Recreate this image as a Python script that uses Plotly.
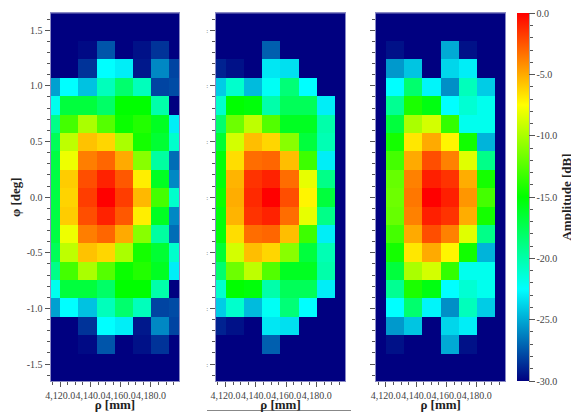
import plotly.graph_objects as go

W, H = 571, 412

rho = [4114, 4126, 4138, 4150, 4162, 4174, 4186, 4198]
phi = [1.65, 1.485, 1.32, 1.155, 0.99, 0.825, 0.66, 0.495, 0.33, 0.165, 0.0,
       -0.165, -0.33, -0.495, -0.66, -0.825, -0.99, -1.155, -1.32, -1.485, -1.65]

left_panel = [
    [-30, -30, -30, -30, -30, -30, -30, -30],
    [-30, -30, -30, -30, -30, -30, -30, -30],
    [-30, -30, -29.7, -27.5, -30, -29.5, -28.5, -30],
    [-30, -30, -28.5, -22.5, -23, -29.3, -26, -28],
    [-25.3, -22.5, -24.3, -20.5, -18.2, -20.5, -28, -27.8],
    [-22, -16.8, -16.8, -18, -15, -15, -20, -30],
    [-19, -13, -10, -12.5, -14.7, -14, -16, -23],
    [-17.6, -9.4, -5.7, -6.3, -10, -14.4, -16.5, -21],
    [-17, -8, -3.7, -3, -5, -11, -19.7, -26.8],
    [-17, -6, -2.3, -1, -2.6, -7, -16, -26],
    [-17, -6.2, -1.8, 0, -1.8, -5.4, -13, -21],
    [-17, -6, -2.3, -1, -2.6, -7, -16, -26],
    [-17, -8, -3.7, -3, -5, -11, -19.7, -26.8],
    [-17.6, -9.4, -5.7, -6.3, -10, -14.4, -16.5, -21],
    [-19, -13, -10, -12.5, -14.7, -14, -16, -23],
    [-22, -16.8, -16.8, -18, -15, -15, -20, -30],
    [-25.3, -22.5, -24.3, -20.5, -18.2, -20.5, -28, -27.8],
    [-30, -30, -28.5, -22.5, -23, -29.3, -26, -28],
    [-30, -30, -29.7, -27.5, -30, -29.5, -28.5, -30],
    [-30, -30, -30, -30, -30, -30, -30, -30],
    [-30, -30, -30, -30, -30, -30, -30, -30],
]
middle_panel = [
    [-30, -30, -30, -30, -30, -30, -30, -30],
    [-30, -30, -30, -30, -30, -30, -30, -30],
    [-30, -30, -30, -27.2, -30, -30, -30, -30],
    [-29, -29.5, -30, -23.2, -23.4, -30, -30, -30],
    [-24, -21, -24.5, -22.2, -18.5, -22.5, -30, -30],
    [-21, -15, -15.3, -20, -17.6, -17.6, -23, -30],
    [-18.2, -11.8, -9.4, -12.6, -16, -16, -20, -30],
    [-16.5, -8.8, -5.6, -6.3, -11, -16.8, -20.3, -30],
    [-15.3, -6.5, -3.2, -3, -5.6, -13.2, -23, -30],
    [-15.3, -5.3, -1.5, -1, -3.2, -8.2, -19, -30],
    [-14.7, -5.1, -1.2, 0, -2.3, -7.2, -16.8, -30],
    [-15.3, -5.3, -1.5, -1, -3.2, -8.2, -19, -30],
    [-15.3, -6.5, -3.2, -3, -5.6, -13.2, -23, -30],
    [-16.5, -8.8, -5.6, -6.3, -11, -16.8, -20.3, -30],
    [-18.2, -11.8, -9.4, -12.6, -16, -16, -20, -30],
    [-21, -15, -15.3, -20, -17.6, -17.6, -23, -30],
    [-24, -21, -24.5, -22.2, -18.5, -22.5, -30, -30],
    [-29, -29.5, -30, -23.2, -23.4, -30, -30, -30],
    [-30, -30, -30, -27.2, -30, -30, -30, -30],
    [-30, -30, -30, -30, -30, -30, -30, -30],
    [-30, -30, -30, -30, -30, -30, -30, -30],
]
right_panel = [
    [-30, -30, -30, -30, -30, -30, -30, -30],
    [-30, -30, -30, -30, -30, -30, -30, -30],
    [-30, -29.5, -30, -30, -25, -29.5, -30, -30],
    [-30, -25.5, -24.2, -30, -23.7, -23, -30, -30],
    [-30, -22.5, -18.2, -22.8, -25.8, -20.5, -24, -30],
    [-30, -19.3, -14.2, -15.5, -22.5, -21.2, -22, -30],
    [-30, -16.8, -10, -8.8, -13.5, -22, -22, -30],
    [-30, -14.4, -6.8, -5, -7.2, -14.5, -24.7, -30],
    [-30, -13, -5, -2.3, -3.8, -8.4, -19, -30],
    [-30, -12, -3.8, -0.9, -1.5, -5.1, -14.4, -30],
    [-30, -11.8, -3.5, 0, -0.9, -4.4, -13, -30],
    [-30, -12, -3.8, -0.9, -1.5, -5.1, -14.4, -30],
    [-30, -13, -5, -2.3, -3.8, -8.4, -19, -30],
    [-30, -14.4, -6.8, -5, -7.2, -14.5, -24.7, -30],
    [-30, -16.8, -10, -8.8, -13.5, -22, -22, -30],
    [-30, -19.3, -14.2, -15.5, -22.5, -21.2, -22, -30],
    [-30, -22.5, -18.2, -22.8, -25.8, -20.5, -24, -30],
    [-30, -25.5, -24.2, -30, -23.7, -23, -30, -30],
    [-30, -29.5, -30, -30, -25, -29.5, -30, -30],
    [-30, -30, -30, -30, -30, -30, -30, -30],
    [-30, -30, -30, -30, -30, -30, -30, -30],
]

x_ticks = [4120, 4140, 4160, 4180]
x_labels = ["4,120.0", "4,140.0", "4,160.0", "4,180.0"]
y_ticks = [-1.5, -1.0, -0.5, 0.0, 0.5, 1.0, 1.5]
y_labels = ["-1.5", "-1.0", "-0.5", "0.0", "0.5", "1.0", "1.5"]
cropped_y_labels = [":", ":", ":", ":", ":", ":", ":"]
cbar_ticks = [0, -5, -10, -15, -20, -25, -30]
cbar_labels = ["0.0", "-5.0", "-10.0", "-15.0", "-20.0", "-25.0", "-30.0"]

colorscale = [[0, "#000080"], [0.25, "#00ffff"], [0.5, "#00ff00"], [0.75, "#ffff00"], [1, "#ff0000"]]

FONT = "Liberation Serif"
TICK = "#555555"
FRAME = "#8a8ac4"
TXT = "#444444"

def fx(a, b):
    return [a / W, b / W]

def fy(a, b):
    return [1 - b / H, 1 - a / H]

panels = [(left_panel, 50.5, 179.3), (middle_panel, 215.7, 345.3), (right_panel, 376, 505.3)]
PLOT_TOP, PLOT_BOT = 13.3, 381

fig = go.Figure()
layout = {}
for i, (z, a, b) in enumerate(panels):
    n = i + 1
    sfx = "" if n == 1 else str(n)
    trace = dict(x=rho, y=phi, z=z, xaxis=f"x{sfx}", yaxis=f"y{sfx}",
                 zmin=-30, zmax=0, colorscale=colorscale, showscale=False, hoverongaps=False)
    if n == 3:
        trace.update(showscale=True, colorbar=dict(
            thickness=11.6, thicknessmode="pixels",
            len=(PLOT_BOT - PLOT_TOP) / H, lenmode="fraction",
            x=516.6 / W, xanchor="left", xpad=0, y=1 - PLOT_BOT / H, yanchor="bottom", ypad=0,
            outlinewidth=0, borderwidth=0,
            tickmode="array", tickvals=cbar_ticks, ticktext=cbar_labels,
            ticks="outside", ticklen=6, tickwidth=1, tickcolor=TICK,
            tickfont=dict(family=FONT, size=10, color=TXT),
            title=dict(text="<b>Amplitude [dB]</b>", side="right",
                       font=dict(family=FONT, size=13, color="#222222"))))
    fig.add_trace(go.Heatmap(**trace))
    y_text = {1: y_labels, 2: cropped_y_labels, 3: [""] * 7}[n]
    y_font = dict(family=FONT, size=10, color=TXT) if n == 1 else dict(family=FONT, size=7, color="#777777")
    layout[f"xaxis{sfx}"] = dict(
        domain=fx(a, b), range=[4113.5, 4198.8], anchor=f"y{sfx}", showgrid=False, zeroline=False,
        showline=True, linecolor=FRAME, linewidth=1, mirror=True,
        tickmode="array", tickvals=x_ticks, ticktext=x_labels,
        ticks="outside", ticklen=5, tickcolor=TICK, tickwidth=1,
        minor=dict(dtick=5, tick0=4120, ticks="outside", ticklen=3, tickcolor=TICK, showgrid=False),
        tickfont=dict(family=FONT, size=10, color=TXT), tickangle=0,
        title=dict(text="<b>ρ [mm]</b>", font=dict(family=FONT, size=13, color="#222222"), standoff=4))
    layout[f"yaxis{sfx}"] = dict(
        domain=fy(PLOT_TOP, PLOT_BOT), range=[-1.652, 1.652], anchor=f"x{sfx}", showgrid=False, zeroline=False,
        showline=True, linecolor=FRAME, linewidth=1, mirror=True,
        tickmode="array", tickvals=y_ticks, ticktext=y_text,
        ticks="outside", ticklen=5, tickcolor=TICK, tickwidth=1,
        minor=dict(dtick=0.1, tick0=0, ticks="outside", ticklen=3, tickcolor=TICK, showgrid=False),
        tickfont=y_font)
    if n == 1:
        layout["yaxis"]["title"] = dict(text="<b>φ [deg]</b>", font=dict(family=FONT, size=13, color="#222222"), standoff=3)

# colour-bar axis line with its minor ticks
fig.add_trace(go.Scatter(x=[None], y=[None], xaxis="x4", yaxis="y4", showlegend=False, hoverinfo="skip"))
layout["xaxis4"] = dict(domain=fx(516.6, 528.6), anchor="y4", visible=False)
layout["yaxis4"] = dict(domain=fy(PLOT_TOP, PLOT_BOT), range=[-30, 0], anchor="x4", side="right",
                        showgrid=False, zeroline=False, showline=True, linecolor="#aaaaaa", linewidth=1,
                        ticks="", showticklabels=False,
                        minor=dict(dtick=1, ticks="outside", ticklen=3, tickcolor=TICK, showgrid=False))

fig.update_layout(width=W, height=H, autosize=False, margin=dict(l=0, r=0, t=0, b=0, autoexpand=False),
                  paper_bgcolor="white", plot_bgcolor="white", showlegend=False, **layout)
fig.add_shape(type="line", xref="paper", yref="paper", x0=207 / W, x1=351 / W, y0=1 - 410.5 / H, y1=1 - 410.5 / H,
              line=dict(color="#888888", width=1))
fig.write_html("out.html", config={"displayModeBar": False},
               post_script="document.body.style.margin='0';document.documentElement.style.overflow='hidden';")
